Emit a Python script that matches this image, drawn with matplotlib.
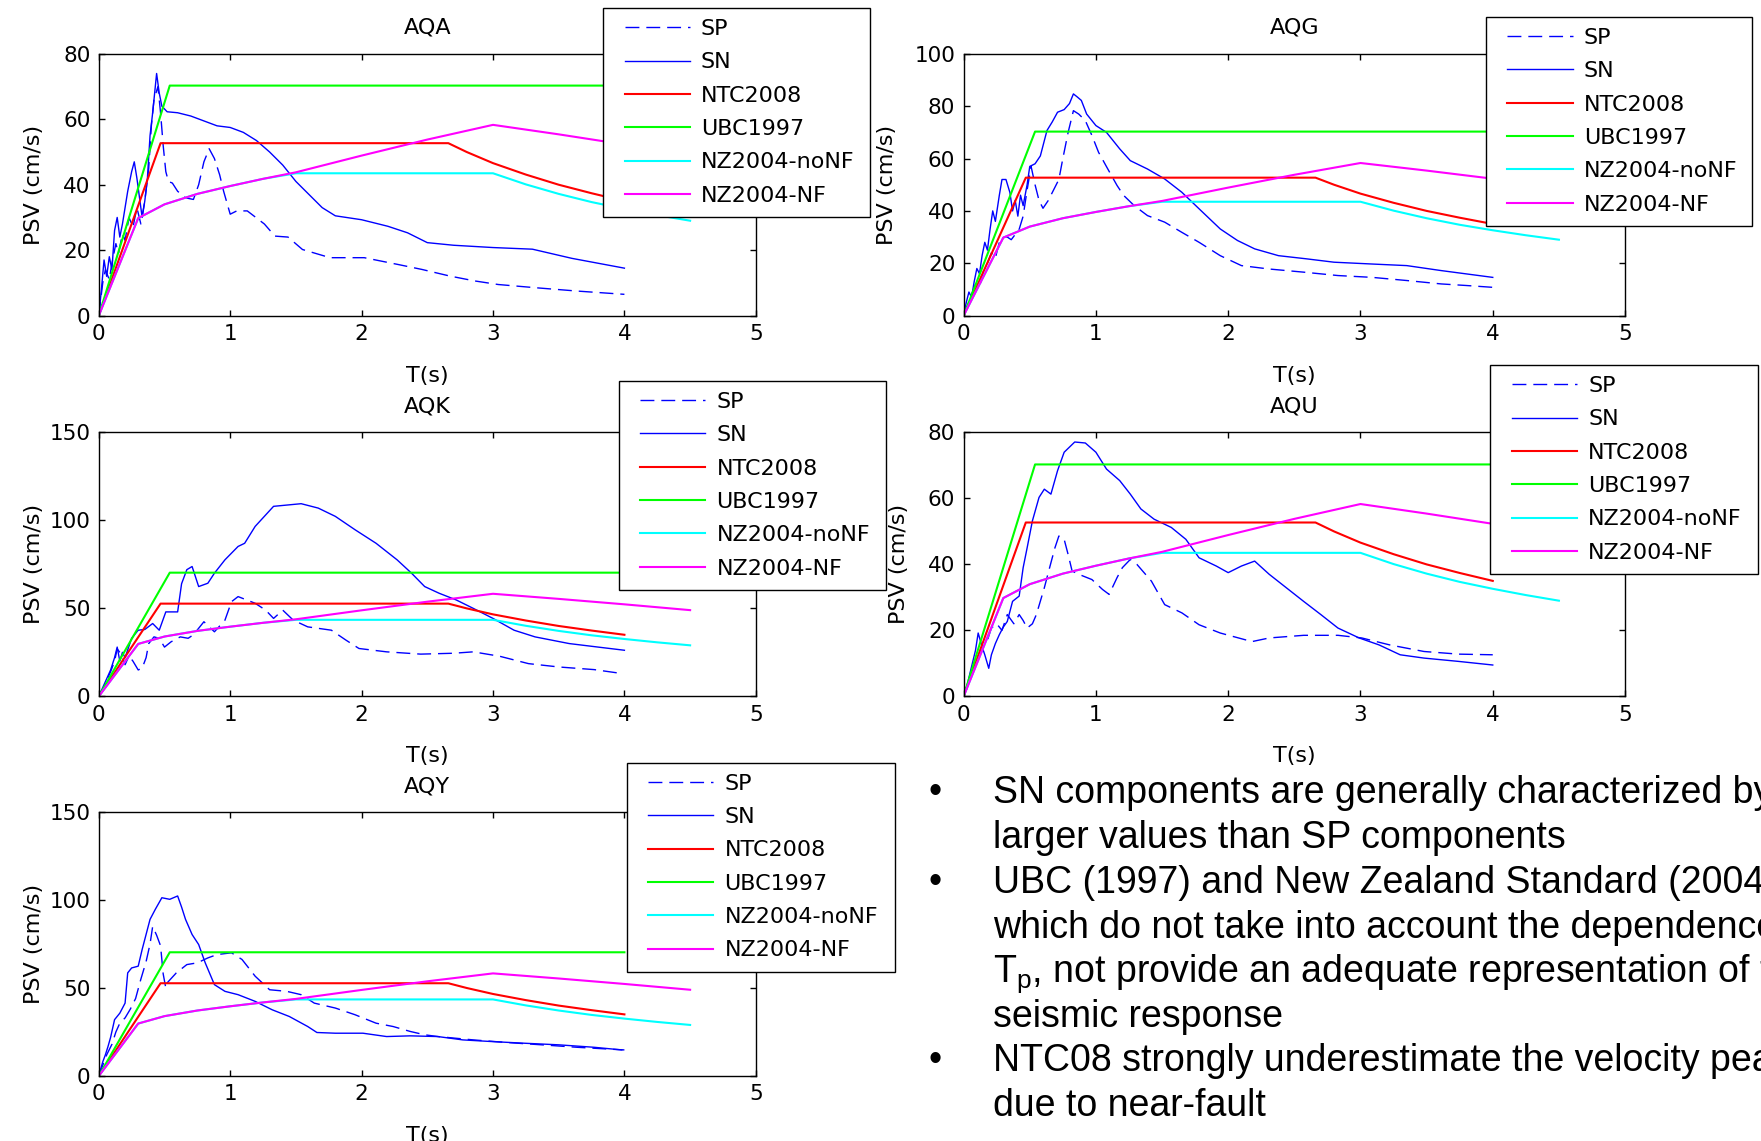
import numpy as np
import matplotlib
matplotlib.use("Agg")
import matplotlib.pyplot as plt
from matplotlib.legend_handler import HandlerLine2D

plt.rcParams["font.family"] = "DejaVu Sans"
plt.rcParams["mathtext.default"] = "regular"

# ── code spectra (same in every panel) ──────────────────────────────────────
T_NTC = [0, 0.47, 2.66, 2.8, 3.0, 3.25, 3.5, 3.75, 4.0]
NTC2008 = [0, 52.7, 52.7, 50.0, 46.6, 43.1, 40.0, 37.4, 35.0]

T_UBC = [0, 0.54, 4.0]
UBC1997 = [0, 70.3, 70.3]

T_NZ_NF = [0, 0.3, 0.5, 0.75, 1.0, 1.25, 1.5, 2.0, 2.5, 3.0, 3.5, 4.0, 4.5]
NZ_NF = [0, 29.8, 34.0, 37.2, 39.6, 41.8, 43.8, 48.9, 53.8, 58.3, 55.4, 52.3, 49.0]

T_NZ_NONF = [0, 0.3, 0.5, 0.75, 1.0, 1.25, 1.5, 3.0, 3.25, 3.5, 3.75, 4.0, 4.25, 4.5]
NZ_NONF = [0, 29.8, 34.0, 37.2, 39.6, 41.8, 43.5, 43.5, 40.1, 37.2, 34.7, 32.6, 30.7, 29.0]

# ── AQA ────────────────────────────────────────────────────────────────────
AQA_T_SN = [0, 0.02, 0.04, 0.06, 0.08, 0.1, 0.12, 0.14, 0.16, 0.18, 0.2, 0.22, 0.25,
            0.27, 0.29, 0.31, 0.33, 0.35, 0.37, 0.39, 0.41, 0.43, 0.44, 0.46, 0.48,
            0.52, 0.6, 0.7, 0.8, 0.9, 1.0, 1.1, 1.2, 1.3, 1.4, 1.5, 1.6, 1.7, 1.8,
            2.0, 2.2, 2.35, 2.5, 2.7, 3.0, 3.3, 3.6, 3.8, 4.0]
AQA_SN = [0, 8, 17, 12, 18, 14, 26, 30, 24, 28, 33, 38, 44,
          47, 42, 36, 30, 35, 42, 55, 62, 70, 74, 68, 64,
          62.3, 62, 61, 59.5, 58, 57.5, 56, 53.5, 50, 46, 41, 37, 33, 30.5,
          29.3, 27.3, 25.3, 22.3, 21.5, 20.8, 20.3, 17.5, 16, 14.5]
AQA_T_SP = [0, 0.03, 0.05, 0.08, 0.1, 0.13, 0.15, 0.18, 0.2, 0.23, 0.26, 0.29, 0.32,
            0.35, 0.38, 0.4, 0.42, 0.45, 0.47, 0.49, 0.51, 0.53, 0.56, 0.6, 0.66,
            0.72, 0.76, 0.8, 0.84, 0.88, 0.92, 0.95, 1.0, 1.05, 1.13, 1.26, 1.34,
            1.44, 1.55, 1.76, 2.02, 2.28, 2.46, 2.67, 2.86, 3.04, 3.33, 3.64, 4.0]
AQA_SP = [0, 10, 14, 11, 16, 22, 19, 25, 23, 30, 27, 33, 28,
          35, 45, 58, 66, 70, 62, 52, 44, 41, 40.5, 38, 36,
          35.5, 40, 47, 51, 48, 43, 38, 31, 32, 32, 28, 24.3,
          24, 20.2, 17.7, 17.7, 15.6, 14.1, 12.1, 10.6, 9.5, 8.5, 7.5, 6.5]

# ── AQG ────────────────────────────────────────────────────────────────────
AQG_T_SN = [0, 0.02, 0.04, 0.06, 0.08, 0.1, 0.12, 0.14, 0.16, 0.18, 0.2, 0.22, 0.24,
            0.27, 0.29, 0.32, 0.35, 0.37, 0.39, 0.41, 0.43, 0.45, 0.48, 0.5, 0.54,
            0.58, 0.63, 0.67, 0.71, 0.76, 0.8, 0.83, 0.86, 0.89, 0.93, 1.0, 1.08,
            1.18, 1.26, 1.39, 1.52, 1.65, 1.78, 1.94, 2.07, 2.2, 2.38, 2.59, 2.8,
            3.09, 3.35, 3.61, 4.0]
AQG_SN = [0, 5, 9, 7, 13, 18, 16, 23, 28, 25, 33, 40, 36,
          46, 52, 52, 47, 40, 44, 38, 46, 42, 50, 57, 58,
          61, 70.7, 74, 77.7, 78.7, 81, 84.7, 83.5, 82.2, 77, 72.6, 70,
          63.7, 59.2, 56, 52.2, 47.1, 40.8, 33.1, 28.7, 25.5, 22.9, 21.7, 20.4,
          19.7, 19.1, 17.2, 14.6]
AQG_T_SP = [0, 0.03, 0.06, 0.09, 0.12, 0.15, 0.18, 0.21, 0.24, 0.27, 0.3, 0.33, 0.36,
            0.39, 0.42, 0.45, 0.48, 0.51, 0.54, 0.57, 0.6, 0.64, 0.68, 0.72, 0.75,
            0.79, 0.83, 0.87, 0.92, 0.97, 1.02, 1.09, 1.16, 1.21, 1.29, 1.39, 1.52,
            1.65, 1.78, 1.94, 2.1, 2.31, 2.57, 2.83, 3.09, 3.35, 3.61, 3.8, 4.0]
AQG_SP = [0, 4, 8, 12, 11, 17, 20, 24, 22, 28, 30, 30, 29,
          31, 33, 38, 48, 57, 50, 44, 41, 44, 48, 52, 60,
          70, 78.3, 77, 74.5, 68.8, 62.4, 56, 49.7, 45.9, 42, 38.2, 35.7,
          31.8, 28, 22.9, 19.1, 17.8, 16.6, 15.3, 14.6, 13.4, 12.1, 11.5, 10.8]

# ── AQK ────────────────────────────────────────────────────────────────────
AQK_T_SN = [0, 0.03, 0.06, 0.09, 0.12, 0.14, 0.16, 0.18, 0.2, 0.25, 0.3, 0.35, 0.41,
            0.46, 0.51, 0.6, 0.63, 0.67, 0.71, 0.76, 0.83, 0.88, 0.96, 1.06, 1.11,
            1.19, 1.33, 1.54, 1.67, 1.8, 1.95, 2.11, 2.27, 2.38, 2.48, 2.59, 2.72,
            2.85, 3.0, 3.16, 3.32, 3.58, 3.8, 4.0]
AQK_SN = [0, 5, 10, 15, 22, 28, 20, 25, 22, 33, 37.6, 38, 41.4,
          37.6, 48, 48, 64, 72, 73.8, 62.4, 64.3, 70, 77.6, 85.2, 87,
          96.6, 108, 109.5, 107, 102.3, 94.7, 87, 77.6, 70, 62.4, 58.6, 54.8,
          50, 44.3, 37.6, 33.8, 30, 28, 26.2]
AQK_T_SP = [0, 0.03, 0.06, 0.09, 0.12, 0.14, 0.17, 0.2, 0.23, 0.26, 0.3, 0.33, 0.36,
            0.38, 0.42, 0.46, 0.5, 0.55, 0.62, 0.68, 0.72, 0.8, 0.88, 0.96, 1.01,
            1.06, 1.19, 1.27, 1.33, 1.4, 1.48, 1.59, 1.77, 1.88, 1.98, 2.19, 2.45,
            2.7, 2.85, 3.05, 3.27, 3.5, 3.77, 3.95]
AQK_SP = [0, 4, 9, 14, 20, 27, 24, 18, 23, 20, 15, 16, 22,
          30, 33.8, 33, 28, 31, 33.8, 33, 35, 42.4, 36.7, 43.3, 53.8,
          56.7, 52.9, 49, 44.3, 49, 43.3, 39.5, 37.6, 32, 27.2, 25.3, 24,
          24.5, 25.3, 22.8, 18.6, 16.7, 15.2, 13.3]

# ── AQU ────────────────────────────────────────────────────────────────────
AQU_T_SN = [0, 0.03, 0.06, 0.09, 0.11, 0.14, 0.16, 0.19, 0.21, 0.24, 0.27, 0.3, 0.33,
            0.37, 0.42, 0.45, 0.48, 0.52, 0.57, 0.61, 0.66, 0.71, 0.76, 0.84, 0.92,
            1.0, 1.08, 1.18, 1.26, 1.34, 1.44, 1.57, 1.68, 1.78, 1.91, 2.0, 2.1,
            2.2, 2.31, 2.44, 2.57, 2.7, 2.83, 2.99, 3.14, 3.3, 3.48, 3.74, 4.0]
AQU_SN = [0, 4, 9, 14, 19.2, 15, 12.6, 8.5, 12.6, 16, 18.7, 21, 22.7,
          28.8, 30.4, 39, 45, 53.2, 60.3, 62.8, 61.3, 68.4, 74, 77.1, 76.8,
          74, 68.9, 65.4, 61.3, 56.8, 53.7, 51.2, 47.6, 42, 39.5, 37.5, 39.5,
          41, 37, 32.9, 28.8, 24.8, 20.7, 17.7, 15.6, 12.6, 11.6, 10.6, 9.5]
AQU_T_SP = [0, 0.03, 0.06, 0.09, 0.12, 0.15, 0.18, 0.21, 0.25, 0.29, 0.33, 0.38, 0.42,
            0.45, 0.48, 0.52, 0.55, 0.61, 0.65, 0.69, 0.72, 0.76, 0.79, 0.82, 0.87,
            0.97, 1.05, 1.1, 1.16, 1.2, 1.26, 1.31, 1.42, 1.52, 1.65, 1.78, 1.94,
            2.18, 2.31, 2.57, 2.83, 3.01, 3.22, 3.48, 3.74, 4.0]
AQU_SP = [0, 3, 7, 11, 13, 15, 17, 20.7, 22, 20, 24.8, 22, 24.8,
          23, 20.7, 22, 24.8, 32.9, 39, 45, 48.6, 47.6, 43, 38, 37,
          35.4, 32.4, 30.9, 36, 39, 41.5, 40, 34.9, 27.8, 25.3, 21.7, 19.2,
          16.6, 17.7, 18.5, 18.5, 17.7, 15.6, 13.6, 12.8, 12.6]

# ── AQY ────────────────────────────────────────────────────────────────────
AQY_T_SN = [0, 0.03, 0.05, 0.07, 0.09, 0.12, 0.16, 0.2, 0.22, 0.25, 0.3, 0.33, 0.35,
            0.39, 0.43, 0.48, 0.54, 0.6, 0.63, 0.66, 0.71, 0.76, 0.81, 0.88, 0.96,
            1.06, 1.19, 1.32, 1.45, 1.59, 1.66, 1.8, 2.01, 2.19, 2.37, 2.58, 2.77,
            2.98, 3.24, 3.5, 3.77, 3.98]
AQY_SN = [0, 8, 12, 16.7, 22, 32, 35.7, 41.4, 58.6, 61.4, 62.4, 71.9, 77.6,
          89, 94.7, 101.3, 100.4, 102.3, 96, 89, 80.4, 74.7, 64.3, 51.9, 48.1,
          46.2, 42.4, 37.6, 33.8, 28.1, 24.7, 24.3, 24.3, 22.4, 22.8, 22.4, 20.5,
          19.6, 18.6, 17.7, 16.3, 14.8]
AQY_T_SP = [0, 0.03, 0.06, 0.1, 0.13, 0.16, 0.2, 0.24, 0.28, 0.32, 0.36, 0.39, 0.41,
            0.44, 0.47, 0.49, 0.51, 0.52, 0.59, 0.67, 0.75, 0.83, 0.9, 1.01, 1.09,
            1.19, 1.3, 1.43, 1.54, 1.64, 1.8, 1.95, 2.11, 2.24, 2.37, 2.48, 2.58,
            2.85, 3.11, 3.37, 3.64, 3.9, 4.0]
AQY_SP = [0, 6, 12, 18, 25, 30, 33, 38, 44, 55, 65, 75, 85,
          80, 74, 58, 50, 52.9, 58.6, 63.3, 64.3, 67.1, 69, 70, 66.2,
          56.7, 49, 48.1, 46.2, 41.4, 38.6, 34.8, 30, 28.1, 25.3, 23.4, 22.4,
          20.5, 19, 17.7, 16.3, 15.2, 14.8]

LABELS = ["SP", "SN", "NTC2008", "UBC1997", "NZ2004-noNF", "NZ2004-NF"]

BULLET_LINES = [
    ("\u2022", "SN components are generally characterized by"),
    ("", "larger values than SP components"),
    ("\u2022", "UBC (1997) and New Zealand Standard (2004),"),
    ("", "which do not take into account the dependence on"),
    ("", "T$_p$, not provide an adequate representation of the"),
    ("", "seismic response"),
    ("\u2022", "NTC08 strongly underestimate the velocity peak"),
    ("", "due to near-fault"),
]

W, H = 1761, 1141


class GapLine(HandlerLine2D):
    """Legend line that starts a little in from the left of its handle box."""
    def get_xdata(self, legend, xdescent, ydescent, width, height, fontsize):
        xdata = np.array([-xdescent + 7.4, -xdescent + width])
        return xdata, xdata


# name, axes rect (fig fraction), y max, y step, legend (x0, top, width) fig fraction, ylabel offset px
panels = [
    ("AQA", (0.0561, 0.7234, 0.3731, 0.2294), 80, 20, (0.3425, 0.9931, 0.1518), 65,
     AQA_T_SP, AQA_SP, AQA_T_SN, AQA_SN),
    ("AQG", (0.5472, 0.7234, 0.3756, 0.2294), 100, 20, (0.8438, 0.9853, 0.1513), 77,
     AQG_T_SP, AQG_SP, AQG_T_SN, AQG_SN),
    ("AQK", (0.0561, 0.3897, 0.3731, 0.2313), 150, 50, (0.3514, 0.6663, 0.1518), 65,
     AQK_T_SP, AQK_SP, AQK_T_SN, AQK_SN),
    ("AQU", (0.5472, 0.3897, 0.3756, 0.2313), 80, 20, (0.8463, 0.6801, 0.1518), 65,
     AQU_T_SP, AQU_SP, AQU_T_SN, AQU_SN),
    ("AQY", (0.0561, 0.0570, 0.3731, 0.2313), 150, 50, (0.3559, 0.3316, 0.1524), 65,
     AQY_T_SP, AQY_SP, AQY_T_SN, AQY_SN),
]

fig = plt.figure(figsize=(W / 100, H / 100), dpi=100, facecolor="white")

for name, rect, ymax, ystep, leg, ylab_off, t_sp, sp, t_sn, sn in panels:
    ax = fig.add_axes(rect)
    ax_w = rect[2] * W
    ax_h = rect[3] * H

    lines = []
    lines += ax.plot(t_sp, sp, color="#0000FF", lw=1.0, ls=(0, (10, 5)))
    lines += ax.plot(t_sn, sn, color="#0000FF", lw=1.0)
    lines += ax.plot(T_NTC, NTC2008, color="#FF0000", lw=1.5)
    lines += ax.plot(T_UBC, UBC1997, color="#00FF00", lw=1.5)
    lines += ax.plot(T_NZ_NONF, NZ_NONF, color="#00FFFF", lw=1.5)
    lines += ax.plot(T_NZ_NF, NZ_NF, color="#FF00FF", lw=1.5)

    ax.set_xlim(0, 5)
    ax.set_ylim(0, ymax)
    ax.set_xticks(range(0, 6))
    ax.set_yticks(np.arange(0, ymax + 1, ystep))
    ax.tick_params(direction="in", top=True, right=True, length=4.5, width=1.0,
                   labelsize=15.5, pad=6, colors="black")
    for spine in ax.spines.values():
        spine.set_linewidth(1.0)
        spine.set_edgecolor("black")

    ax.text(0.5, 1 + 26 / ax_h, name, transform=ax.transAxes, ha="center",
            va="center", fontsize=16)
    ax.set_xlabel("T(s)", fontsize=16)
    ax.xaxis.set_label_coords(0.5, -60 / ax_h)
    ax.xaxis.label.set_va("center")
    ax.set_ylabel("PSV (cm/s)", fontsize=16)
    ax.yaxis.set_label_coords(-ylab_off / ax_w, 0.5)
    ax.yaxis.label.set_va("center")

    lg = ax.legend(lines, LABELS, loc="upper left",
                   bbox_to_anchor=(leg[0], leg[1], leg[2], 0),
                   bbox_transform=fig.transFigure, mode="expand",
                   borderaxespad=0, fancybox=False, edgecolor="black",
                   framealpha=1, fontsize=16, handlelength=3.4,
                   handletextpad=0.5, labelspacing=0.6, borderpad=0.5,
                   handler_map={l: GapLine() for l in lines})
    lg.get_frame().set_linewidth(1.0)
    lg.set_zorder(10)

# bullet text block (baselines, px from top)
baselines = [803, 848, 893, 938, 982, 1027, 1071, 1116]
for (bullet, line), yb in zip(BULLET_LINES, baselines):
    y = 1 - yb / H
    if bullet:
        fig.text(929 / W, y, bullet, fontsize=27, family="Liberation Sans",
                 ha="left", va="baseline")
    fig.text(993 / W, y, line, fontsize=27, family="Liberation Sans",
             ha="left", va="baseline")

fig.savefig("out.png", dpi=100, facecolor="white")
